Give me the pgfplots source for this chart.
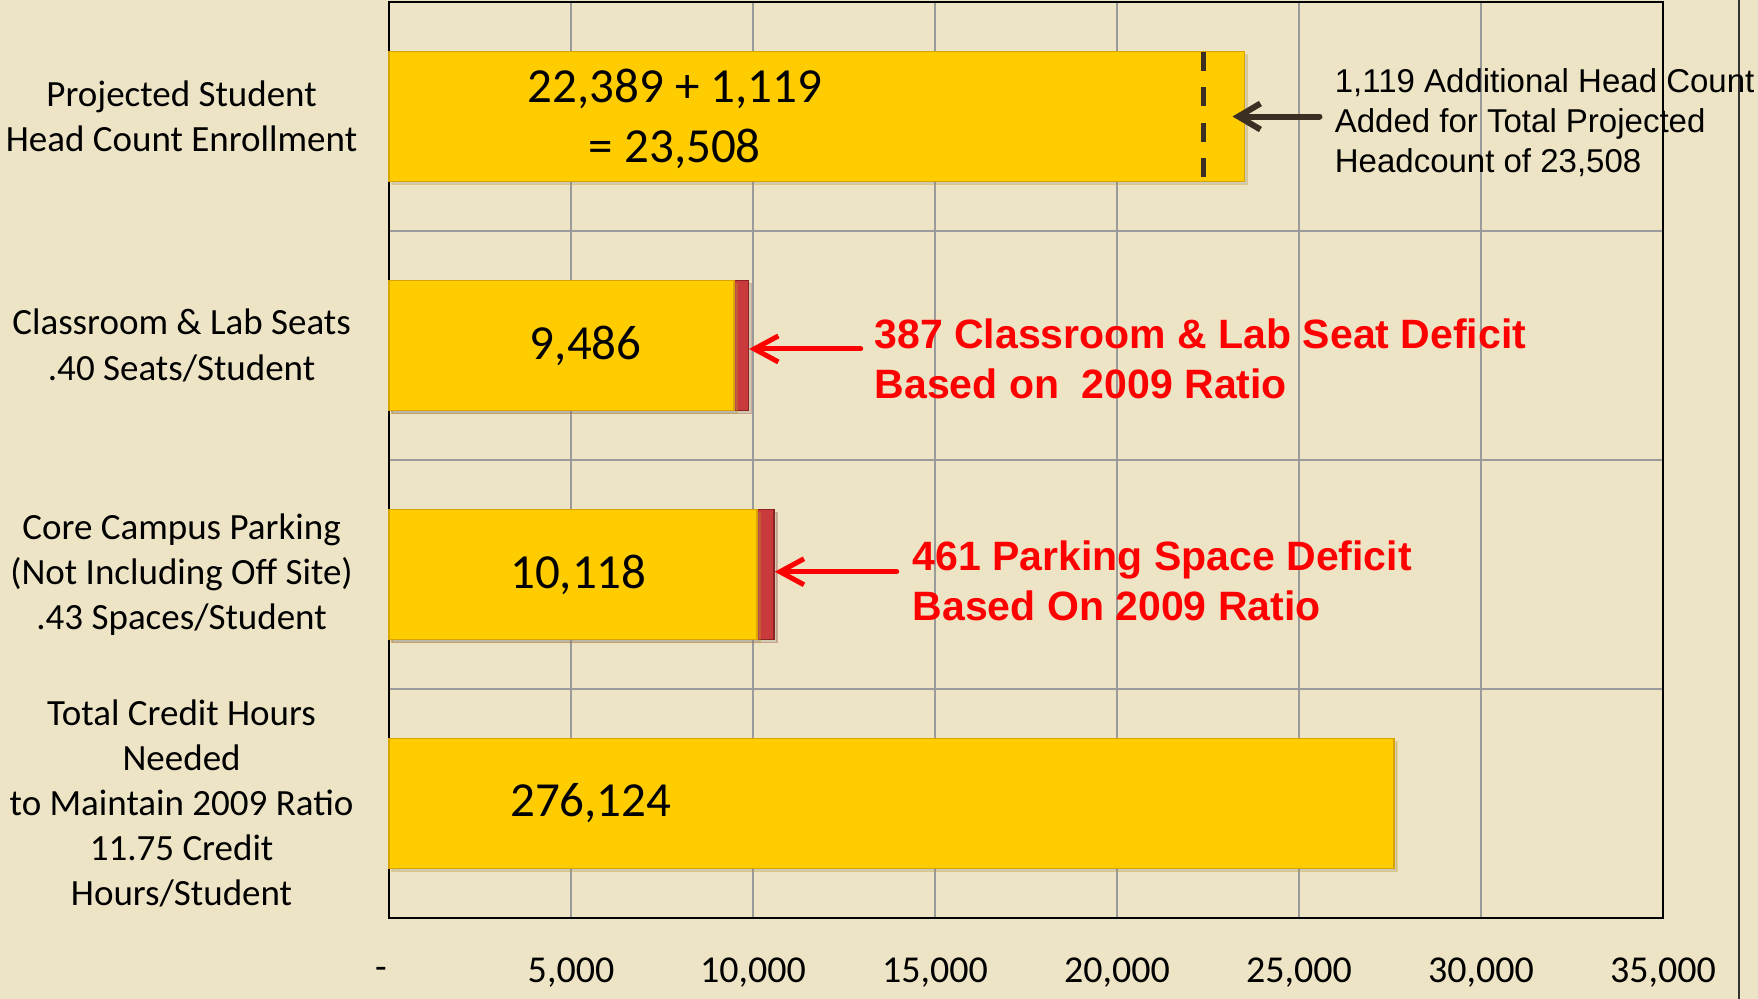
\documentclass[border=0pt]{standalone}
\usepackage{pgfplots}
\pgfplotsset{compat=1.18}
\usetikzlibrary{arrows.meta,shadows}
\usepackage{fontspec}
\setmainfont{Carlito}
\newfontfamily\arial{Liberation Sans}
\definecolor{bg}{HTML}{EDE3C5}
\definecolor{baryel}{HTML}{FFCC00}
\definecolor{baredge}{HTML}{D9A400}
\definecolor{barred}{HTML}{C93A3C}
\definecolor{barrededge}{HTML}{8B2323}
\definecolor{gridc}{HTML}{9A9A9A}
\definecolor{darkarrow}{HTML}{3A2F22}
\begin{document}
\begin{tikzpicture}
\clip (-194.5bp,-40.5bp) rectangle (684.5bp,459bp);
\fill[bg] (-194.5bp,-40.5bp) rectangle (684.5bp,459bp);
\draw[line width=1bp, black!80] (675bp,-40.5bp) -- (675bp,459bp);
\begin{axis}[
  scale only axis, width=637bp, height=458bp,
  clip=false,
  xmin=0, xmax=35000, ymin=-0.5, ymax=3.5, y dir=reverse,
  xtick={0,5000,10000,15000,20000,25000,30000,35000},
  xticklabels={{-\hspace*{8bp}},{5,000},{10,000},{15,000},{20,000},{25,000},{30,000},{35,000}},
  ytick={0,1,2,3},
  yticklabels={{Projected Student\\Head Count Enrollment},
               {Classroom \& Lab Seats\\.40 Seats/Student},
               {Core Campus Parking\\(Not Including Off Site)\\.43 Spaces/Student},
               {Total Credit Hours\\Needed\\to Maintain 2009 Ratio\\11.75 Credit\\Hours/Student}},
  minor ytick={0.5,1.5,2.5},
  xmajorgrids, yminorgrids,
  major tick length=0pt, minor tick length=0pt,
  grid style={gridc, line width=0.6bp},
  minor grid style={gridc, line width=0.6bp},
  axis line style={black, line width=1bp},
  xticklabel style={font=\fontsize{19bp}{22bp}\selectfont, anchor=center, yshift=-27.5bp},
  yticklabel style={font=\fontsize{18.5bp}{22.6bp}\selectfont, align=center, anchor=center, xshift=-103.7bp},
]
% red deficit bars (total = base + deficit), drawn first, yellow base on top
\addplot[xbar, bar shift=0pt, bar width=65bp, fill=barred, draw=barrededge, line width=0.8bp,
  drop shadow={shadow xshift=1.5bp, shadow yshift=-1.5bp, opacity=0.25}]
  coordinates {(9873,1) (10579,2)};
\addplot[xbar, bar shift=0pt, bar width=65bp, fill=baryel, draw=baredge, line width=0.8bp,
  drop shadow={shadow xshift=1.5bp, shadow yshift=-1.5bp, opacity=0.25}]
  coordinates {(23508,0) (9486,1) (10118,2) (27612.4,3)};
% dashed marker at 22,389
\addplot[darkarrow, line width=2.5bp, dash pattern=on 9.5bp off 8.25bp, mark=none]
  coordinates {(22389,-0.283) (22389,0.283)};

\draw[-{Straight Barb[length=11bp,width=13bp]}, line width=3bp, darkarrow, line cap=round]
  (axis cs:25563,0) -- (axis cs:23174,0);
\draw[-{Straight Barb[length=12bp,width=13bp]}, line width=2.5bp, red, line cap=round]
  (axis cs:12960,1.015) -- (axis cs:9893,1.015);
\draw[-{Straight Barb[length=12bp,width=13bp]}, line width=2.5bp, red, line cap=round]
  (axis cs:13948,1.988) -- (axis cs:10598,1.988);

\node[font=\fontsize{24.5bp}{30bp}\selectfont, align=center, inner sep=0] at (axis cs:7853,0.01) {22,389 + 1,119\\= 23,508};
\node[font=\fontsize{24.5bp}{30bp}\selectfont, inner sep=0] at (axis cs:5404,1) {9,486};
\node[font=\fontsize{24.5bp}{30bp}\selectfont, inner sep=0] at (axis cs:5203,2) {10,118};
\node[font=\fontsize{24.5bp}{30bp}\selectfont, inner sep=0] at (axis cs:5544,3) {276,124};

\node[anchor=west, align=left, text=red, font=\arial\bfseries\fontsize{20.5bp}{24.75bp}\selectfont, inner sep=0]
  at (axis cs:13330,1.058) {387 Classroom \& Lab Seat Deficit\\Based on\ \ 2009 Ratio};
\node[anchor=west, align=left, text=red, font=\arial\bfseries\fontsize{20.5bp}{24.75bp}\selectfont, inner sep=0]
  at (axis cs:14377,2.028) {461 Parking Space Deficit\\Based On 2009 Ratio};
\node[anchor=west, align=left, font=\arial\fontsize{16.5bp}{20bp}\selectfont, inner sep=0]
  at (axis cs:25975,0.028) {1,119 Additional Head Count\\Added for Total Projected\\Headcount of 23,508};
\end{axis}
\end{tikzpicture}
\end{document}
